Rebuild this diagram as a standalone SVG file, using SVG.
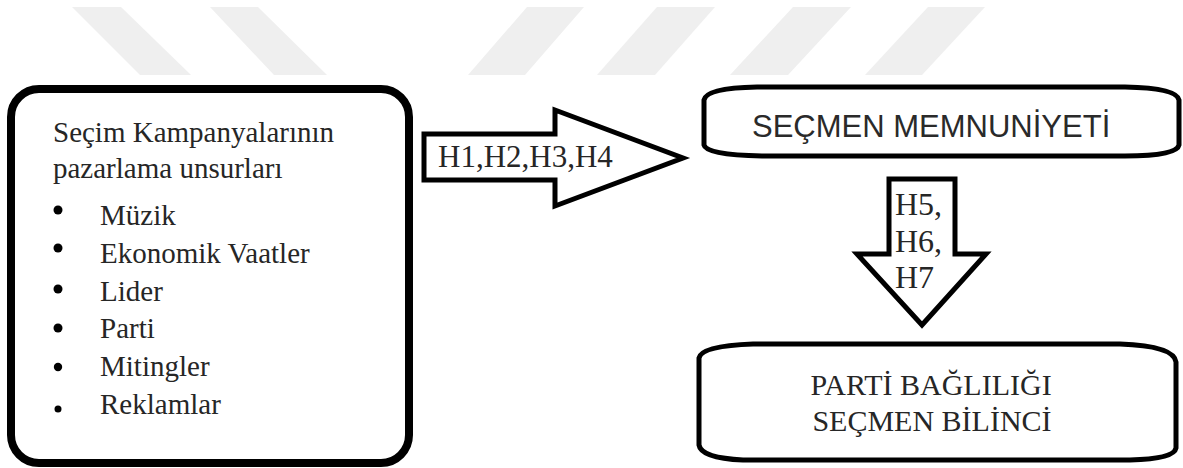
<svg xmlns="http://www.w3.org/2000/svg" width="1183" height="468" viewBox="0 0 1183 468">
<style>
.stripe{fill:#efefef}
.box{fill:#ffffff;stroke:#000000;stroke-linejoin:round}
.arrow{fill:#ffffff;stroke:#000000;stroke-width:5;stroke-linejoin:miter}
.serif{font-family:"Liberation Serif","Times New Roman",serif;fill:#262626}
.sans{font-family:"Liberation Sans",Arial,sans-serif;fill:#2a2a2a}
.bullet{fill:#000000}
</style>
<rect width="1183" height="468" fill="#ffffff"/>
<g id="watermark">
<polygon class="stripe" points="72,7 121,7 191,75 140,75"/>
<polygon class="stripe" points="210,7 258,7 327,75 274,75"/>
<polygon class="stripe" points="527,7 584,7 525,75 468,75"/>
<polygon class="stripe" points="657,7 715,7 655,75 597,75"/>
<polygon class="stripe" points="793,7 851,7 788,75 730,75"/>
<polygon class="stripe" points="928,7 985,7 922,75 865,75"/>
</g>
<g id="node-kampanya" font-family="Liberation Serif, Times New Roman, serif">
<rect class="box" x="11" y="89" width="398" height="374" rx="28" ry="28" stroke-width="8"/>
<text class="serif" font-family="Liberation Serif, serif" font-size="29" x="53" y="142">Seçim Kampanyalarının</text>
<text class="serif" font-family="Liberation Serif, serif" font-size="29" x="53" y="178">pazarlama unsurları</text>
<circle class="bullet" cx="58" cy="210" r="4.5"/>
<circle class="bullet" cx="58" cy="248" r="4.5"/>
<circle class="bullet" cx="58" cy="289" r="4.5"/>
<circle class="bullet" cx="58" cy="328" r="4.5"/>
<circle class="bullet" cx="58" cy="367" r="4.2"/>
<circle class="bullet" cx="58" cy="409" r="3.5"/>
<text class="serif" font-family="Liberation Serif, serif" font-size="29" x="100" y="225">Müzik</text>
<text class="serif" font-family="Liberation Serif, serif" font-size="29" x="100" y="263">Ekonomik Vaatler</text>
<text class="serif" font-family="Liberation Serif, serif" font-size="29" x="100" y="301">Lider</text>
<text class="serif" font-family="Liberation Serif, serif" font-size="29" x="100" y="338">Parti</text>
<text class="serif" font-family="Liberation Serif, serif" font-size="29" x="100" y="376">Mitingler</text>
<text class="serif" font-family="Liberation Serif, serif" font-size="29" x="100" y="414">Reklamlar</text>
</g>
<g id="node-memnuniyet">
<path class="box" stroke-width="5" d="M757,87 L1125,87 Q1177,88 1179,100 L1179,145 Q1177,156 1125,156 L762,156 Q706,155 704,145 L704,100 Q706,88 757,87 Z"/>
<text class="sans" font-size="31" x="752" y="137">SEÇMEN MEMNUNİYETİ</text>
</g>
<g id="node-baglilik">
<path class="box" stroke-width="5" d="M753,344 L1120,344 Q1174,346 1176,362 L1176,448 Q1174,459 1130,460 L743,460 Q701,458 699,445 L699,358 Q701,346 753,344 Z"/>
<text class="serif" font-family="Liberation Serif, serif" font-size="30" x="931" y="395" text-anchor="middle">PARTİ BAĞLILIĞI</text>
<text class="serif" font-family="Liberation Serif, serif" font-size="30" x="932" y="431" text-anchor="middle">SEÇMEN BİLİNCİ</text>
</g>
<g id="connectors">
<g id="arrow-h1-h4">
<path class="arrow" d="M424,134 L555,134 L555,110 L683,158 L555,206 L555,180 L424,180 Z"/>
<text class="serif" font-family="Liberation Serif, serif" font-size="31" x="438" y="167">H1,H2,H3,H4</text>
</g>
<g id="arrow-h5-h7">
<path class="arrow" d="M889,179 L955,179 L955,254 L986,254 L922,325 L857,254 L889,254 Z"/>
<text class="serif" font-family="Liberation Serif, serif" font-size="32" x="895" y="215">H5,</text>
<text class="serif" font-family="Liberation Serif, serif" font-size="32" x="895" y="252">H6,</text>
<text class="serif" font-family="Liberation Serif, serif" font-size="32" x="895" y="288">H7</text>
</g>
</g>
</svg>
